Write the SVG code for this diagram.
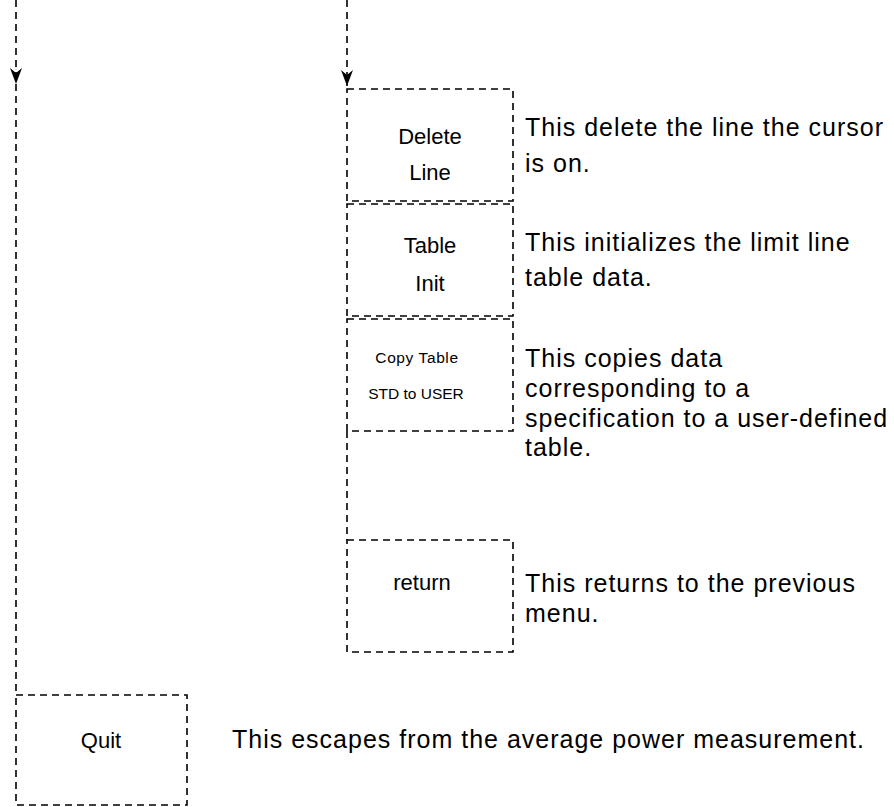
<svg xmlns="http://www.w3.org/2000/svg" width="894" height="807" viewBox="0 0 894 807">
<defs>
<marker id="arr" markerWidth="16" markerHeight="12" refX="16" refY="6" orient="auto" markerUnits="userSpaceOnUse" viewBox="0 0 16 12">
<path d="M0,0 L16,6 L0,12 L5,6 Z" fill="#000"/>
</marker>
</defs>
<style>
.d{fill:none;stroke:#000;stroke-width:1.6;stroke-dasharray:7,5}
.b{fill:#fff;stroke:#000;stroke-width:1.6;stroke-dasharray:7,5}
.k{font-family:"Liberation Sans",Arial,sans-serif;font-size:22px;fill:#000;text-anchor:middle}
.s{font-family:"Liberation Sans",Arial,sans-serif;font-size:15.5px;fill:#000;text-anchor:middle}
.t{font-family:"Liberation Sans",Arial,sans-serif;font-size:25px;letter-spacing:1px;fill:#000}
</style>
<rect width="894" height="807" fill="#fff"/>
<g id="connectors">
<line class="d" x1="16" y1="0" x2="16" y2="84" marker-end="url(#arr)"/>
<line class="d" x1="16" y1="84" x2="16" y2="695"/>
<line class="d" x1="347" y1="0" x2="347" y2="86" marker-end="url(#arr)"/>
<line class="d" x1="347" y1="431" x2="347" y2="540"/>
</g>
<g id="delete-line">
<rect class="b" x="347" y="89" width="166" height="112"/>
<text class="k" x="430" y="144">Delete</text>
<text class="k" x="430" y="180">Line</text>
<text class="t" x="525" y="136">This delete the line the cursor</text>
<text class="t" x="525" y="172">is on.</text>
</g>
<g id="table-init">
<rect class="b" x="347" y="204" width="166" height="112"/>
<text class="k" x="430" y="253">Table</text>
<text class="k" x="430" y="291">Init</text>
<text class="t" x="525" y="251">This initializes the limit line</text>
<text class="t" x="525" y="286">table data.</text>
</g>
<g id="copy-table">
<rect class="b" x="347" y="319" width="166" height="112"/>
<text class="s" x="417" y="363" letter-spacing="0.6">Copy Table</text>
<text class="s" x="416" y="399">STD to USER</text>
<text class="t" x="525" y="367">This copies data</text>
<text class="t" x="525" y="397">corresponding to a</text>
<text class="t" x="525" y="427">specification to a user-defined</text>
<text class="t" x="525" y="456">table.</text>
</g>
<g id="return">
<rect class="b" x="347" y="540" width="166" height="112"/>
<text class="k" x="422" y="590">return</text>
<text class="t" x="525" y="592">This returns to the previous</text>
<text class="t" x="525" y="622">menu.</text>
</g>
<g id="quit">
<rect class="b" x="16" y="695" width="171" height="110"/>
<text class="k" x="101" y="748">Quit</text>
<text class="t" x="232" y="748">This escapes from the average power measurement.</text>
</g>
</svg>
